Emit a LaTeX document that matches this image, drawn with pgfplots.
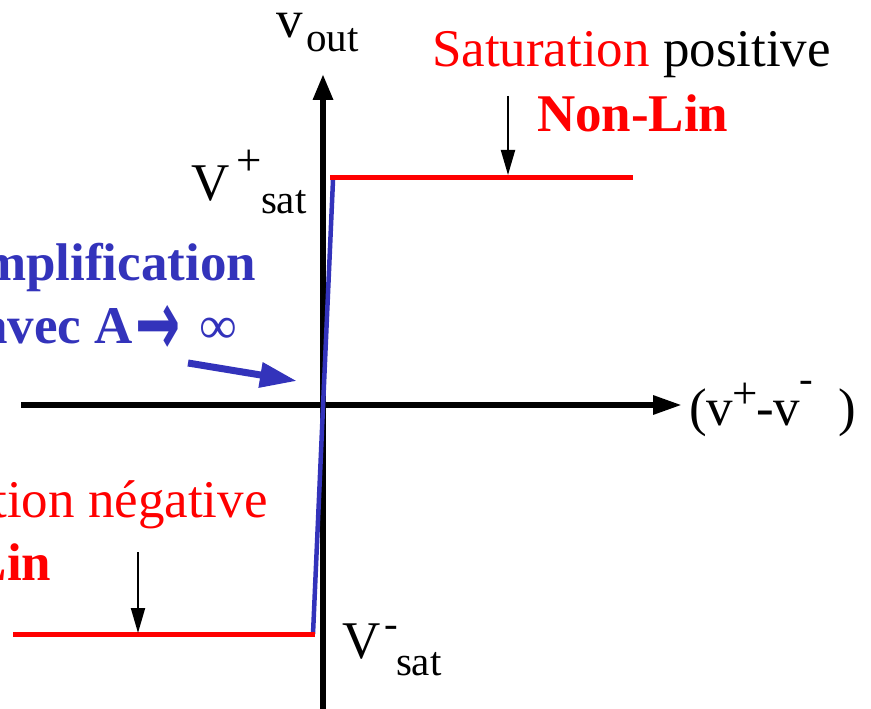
\documentclass[border=0pt]{standalone}
\usepackage{pgfplots}
\pgfplotsset{compat=1.18}
\usepackage{fontspec}
\setmainfont{Liberation Serif}
\newfontfamily\dejavu{DejaVu Sans}
\usetikzlibrary{arrows.meta}
\definecolor{sred}{RGB}{255,0,0}
\definecolor{sblue}{RGB}{51,51,187}
\newcommand{\bigf}{\fontsize{53bp}{60bp}\selectfont}
\newcommand{\sml}{\fontsize{41bp}{46bp}\selectfont}
\newcommand{\supf}{\fontsize{45bp}{50bp}\selectfont}
\tikzset{t/.style={inner sep=0pt, outer sep=0pt, anchor=base west},
  te/.style={inner sep=0pt, outer sep=0pt, anchor=base east}}
\begin{document}
\begin{tikzpicture}
\path[use as bounding box, clip] (0,0) rectangle (871bp,709bp);
\begin{axis}[at={(0,0)}, anchor=south west,
  width=871bp, height=709bp, scale only axis, hide axis,
  xmin=0, xmax=871, ymin=0, ymax=709, y dir=reverse, clip=true]
% axes
\addplot[black, line width=6bp, -{Triangle[length=29bp,width=18bp]}] coordinates {(21,405) (682,405)};
\addplot[black, line width=6bp, -{Triangle[length=26bp,width=19bp]}] coordinates {(323,720) (323,74)};
% characteristic
\addplot[sblue, line width=4.5bp] coordinates {(313,634) (333,180)};
\addplot[sred, line width=5bp] coordinates {(330,178) (633,178)};
\addplot[sred, line width=5bp] coordinates {(13,634) (315,634)};
% small arrows
\addplot[black, line width=2bp, -{Triangle[length=25bp,width=14bp]}] coordinates {(508,96) (508,175)};
\addplot[black, line width=2bp, -{Triangle[length=25bp,width=14bp]}] coordinates {(138,552) (138,633)};
\addplot[sblue, line width=7bp, -{Triangle[length=37bp,width=24bp]}] coordinates {(188,363) (297,381)};
% texts
\node[t] at (axis cs:276,38) {\bigf v};
\node[t] at (axis cs:306,52) {\sml out};
\node[t] at (axis cs:432,67) {\bigf\textcolor{sred}{Saturation} positive};
\node[t] at (axis cs:537,132) {\bigf\bfseries\textcolor{sred}{Non-Lin}};
\node[t] at (axis cs:191,200) {\bigf V};
\node[t] at (axis cs:236,175) {\supf +};
\node[t] at (axis cs:261,213) {\sml sat};
\node[te] at (axis cs:256,280) {\bigf\bfseries\textcolor{sblue}{Amplification}};
\node[te] at (axis cs:133,343) {\bigf\bfseries\textcolor{sblue}{avec A}};
\node[t] at (axis cs:135,355) {\scalebox{0.93}[1.6]{\fontsize{58bp}{60bp}\selectfont\dejavu\bfseries\textcolor{sblue}{→}}};
\node[t] at (axis cs:199,343) {\bigf\textcolor{sblue}{∞}};
\node[t] at (axis cs:689,425) {\bigf (v};
\node[t] at (axis cs:732,408) {\supf +};
\node[t] at (axis cs:756,425) {\bigf -v};
\node[t] at (axis cs:799,392) {\sml -};
\node[t] at (axis cs:838,425) {\bigf )};
\node[t] at (axis cs:-143,517) {\bigf\textcolor{sred}{Saturation négative}};
\node[t] at (axis cs:-140,580) {\bigf\bfseries\textcolor{sred}{Non-Lin}};
\node[t] at (axis cs:342,658) {\bigf V};
\node[t] at (axis cs:384,637) {\sml -};
\node[t] at (axis cs:396,675) {\sml sat};
\end{axis}
\end{tikzpicture}
\end{document}
